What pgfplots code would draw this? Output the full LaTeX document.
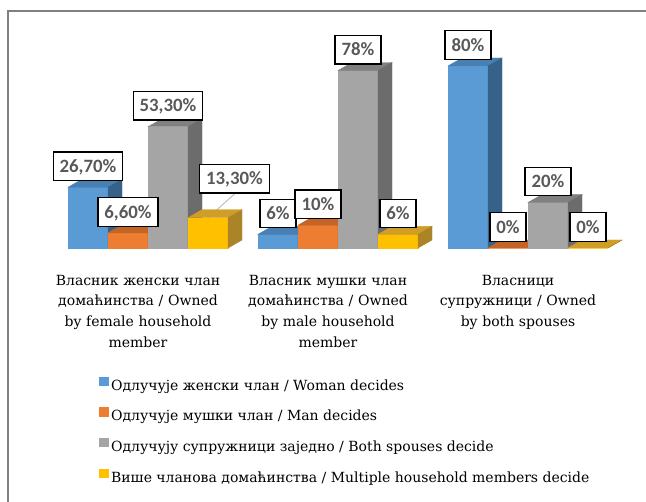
\documentclass[border=0pt]{standalone}
\usepackage{fontspec}
\setmainfont{DejaVu Serif}
\newfontfamily\trm{DejaVu Serif}
\newfontfamily\lblfont{Carlito}
\usepackage{pgfplots}
\usepackage{pgfplotstable}
\pgfplotsset{compat=1.18}

\definecolor{blueF}{RGB}{91,155,213}
\definecolor{blueT}{RGB}{72,128,180}
\definecolor{blueS}{RGB}{54,97,137}
\definecolor{orangeF}{RGB}{237,125,49}
\definecolor{orangeT}{RGB}{196,100,38}
\definecolor{orangeS}{RGB}{168,84,30}
\definecolor{grayF}{RGB}{165,165,165}
\definecolor{grayT}{RGB}{128,128,128}
\definecolor{grayS}{RGB}{108,108,108}
\definecolor{yellowF}{RGB}{255,192,0}
\definecolor{yellowT}{RGB}{208,158,38}
\definecolor{yellowS}{RGB}{172,132,40}
\definecolor{lblgray}{RGB}{89,89,89}
\definecolor{framegray}{RGB}{128,128,128}
\definecolor{leader}{RGB}{191,191,191}

\pgfdeclareplotmark{nothing}{}

\pgfplotstableread{
x y lab
0 26.7 {26,70\%}
1 6 {6\%}
2 80 {80\%}
}\Woman
\pgfplotstableread{
x y lab
0 6.6 {6,60\%}
1 10 {10\%}
2 0 {0\%}
}\Man
\pgfplotstableread{
x y lab
0 53.3 {53,30\%}
1 78 {78\%}
2 20 {20\%}
}\Both
\pgfplotstableread{
x y lab
0 13.3 {13,30\%}
1 6 {6\%}
2 0 {0\%}
}\Multi

\pgfplotsset{
  bar3d/.style n args={4}{
    only marks, scatter, mark=nothing,
    visualization depends on={rawy \as \yv},
    scatter/@pre marker code/.code={%
      \pgfmathsetmacro\hh{\yv*2.275}%
      \fill[#2] (#1pt-20pt,-\hh pt) rectangle (#1pt+20pt,0pt);%
      \fill[#3] (#1pt-20pt,0pt) -- (#1pt+20pt,0pt) -- (#1pt+34pt,8pt) -- (#1pt-6pt,8pt) -- cycle;%
      \fill[#4] (#1pt+20pt,0pt) -- (#1pt+34pt,8pt) -- (#1pt+34pt,8pt-\hh pt) -- (#1pt+20pt,-\hh pt) -- cycle;%
    },
    scatter/@post marker code/.code={},
    legend image code/.code={\fill[#2] (0pt,1.5pt) rectangle (8.5pt,10pt);},
  },
  lbl/.style 2 args={
    draw=none, mark=none, forget plot,
    nodes near coords, point meta=explicit symbolic,
    every node near coord/.append style={anchor=south, draw=black, line width=1.3pt, fill=white,
       text=lblgray, font=\lblfont\bfseries\fontsize{18.8}{21}\selectfont,
       inner xsep=6.5pt, inner ysep=0pt,
       minimum height=28.5pt, text height=12pt, text depth=0pt,
       xshift=#1pt, yshift=#2pt},
  },
}

\begin{document}
\begin{tikzpicture}
\useasboundingbox (0,0) rectangle (646pt,502pt);
\draw[framegray, line width=1.5pt] (8pt,0pt) -- (8pt,491pt) -- (646pt,491pt);
\begin{axis}[
  at={(15pt,254pt)}, anchor=south west,
  x=190pt, y=2.275pt,
  xmin=-0.7, xmax=2.6, ymin=0, ymax=90,
  clip=false,
  axis line style={draw=none},
  tick style={draw=none},
  major tick length=0pt,
  ytick=\empty,
  xtick={0,1,2},
  xticklabels={{Власник женски члан\\домаћинства / Owned\\by female household\\member},
               {Власник мушки члан\\домаћинства / Owned\\by male household\\member},
               {Власници\\супружници / Owned\\by both spouses}},
  xticklabel style={anchor=north, align=center, text width=190pt, inner sep=0pt,
     font=\trm\fontsize{14}{20.6}\selectfont, yshift=-27pt, xshift=-10pt},
  legend style={at={(axis description cs:0.134,-0.627)}, anchor=north west, draw=none, fill=none,
     inner sep=0pt, font=\trm\fontsize{14}{20.6}\selectfont, row sep=13pt,
     nodes={inner sep=0pt, text height=11pt, text depth=4pt}, column sep=3pt},
  legend cell align=left,
]
\addplot[bar3d={-60}{blueF}{blueT}{blueS}] table[x=x,y=y] {\Woman};
\addlegendentry{Одлучује женски члан / Woman decides}
\addplot[bar3d={-20}{orangeF}{orangeT}{orangeS}] table[x=x,y=y] {\Man};
\addlegendentry{Одлучује мушки члан / Man decides}
\addplot[bar3d={20}{grayF}{grayT}{grayS}] table[x=x,y=y] {\Both};
\addlegendentry{Одлучују супружници заједно / Both spouses decide}
\addplot[bar3d={60}{yellowF}{yellowT}{yellowS}] table[x=x,y=y] {\Multi};
\addlegendentry{Више чланова домаћинства / Multiple household members decide}

\addplot[leader, line width=1pt, forget plot] coordinates {(0.3158,13.3) (0.4553,23.74)};

\addplot[lbl={-60}{6}] table[x=x,y=y,meta=lab] {\Woman};
\addplot[lbl={-20}{6}] table[x=x,y=y,meta=lab] {\Man};
\addplot[lbl={20}{6}] table[x=x,y=y,meta=lab] {\Both};
\addplot[lbl={60}{6}, skip coords between index={0}{1}] table[x=x,y=y,meta=lab] {\Multi};
\addplot[lbl={86.5}{24}, skip coords between index={1}{3}] table[x=x,y=y,meta=lab] {\Multi};
\end{axis}
\end{tikzpicture}
\end{document}
